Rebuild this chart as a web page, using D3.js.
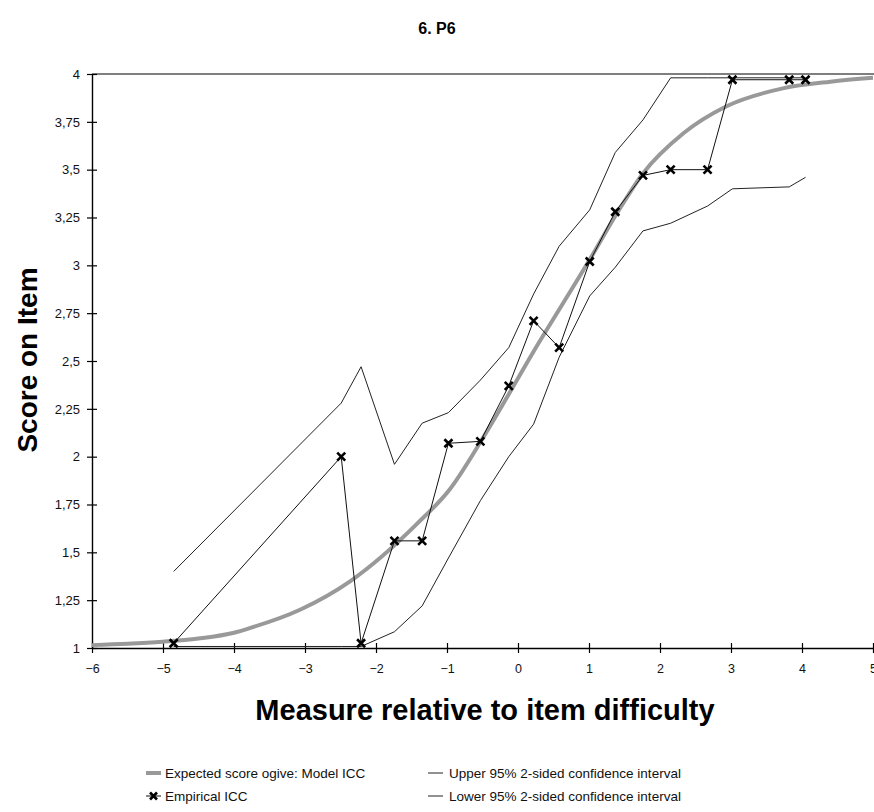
<!DOCTYPE html>
<html>
<head>
<meta charset="utf-8">
<script src="https://cdn.jsdelivr.net/npm/d3@7"></script>
<style>
  html, body { margin: 0; padding: 0; background: #fff; }
  svg { display: block; font-family: "Liberation Sans", Arial, sans-serif; }
</style>
</head>
<body>
<svg id="chart" width="874" height="812"></svg>
<script>
// ---- data ----
const title = "6. P6";
const xTicks = [-6, -5, -4, -3, -2, -1, 0, 1, 2, 3, 4, 5];
const yTicks = [1, 1.25, 1.5, 1.75, 2, 2.25, 2.5, 2.75, 3, 3.25, 3.5, 3.75, 4];

// Model ICC (expected score ogive)
const modelX = [-6, -5.5, -5, -4.5, -4, -3.77, -3.07, -2.36, -1.42, -0.96, -0.49, 0.22, 1.01, 1.39, 1.76, 2.33, 2.93, 3.73, 4.4, 5];
const modelY = [1.015, 1.022, 1.033, 1.05, 1.08, 1.105, 1.20, 1.35, 1.65, 1.83, 2.10, 2.55, 3.03, 3.27, 3.48, 3.69, 3.83, 3.925, 3.96, 3.98];

// Empirical ICC
const empX = [-4.85, -2.49, -2.21, -1.74, -1.35, -0.98, -0.53, -0.13, 0.22, 0.58, 1.01, 1.37, 1.76, 2.15, 2.67, 3.02, 3.82, 4.05];
const empY = [1.025, 2.0, 1.025, 1.56, 1.56, 2.07, 2.08, 2.37, 2.71, 2.57, 3.02, 3.28, 3.47, 3.50, 3.50, 3.97, 3.97, 3.97];

// 95% confidence intervals (same x as the empirical points)
const upperY = [1.40, 2.28, 2.47, 1.96, 2.175, 2.23, 2.40, 2.57, 2.85, 3.10, 3.29, 3.59, 3.76, 3.98, 3.98, 3.98, 3.98, 3.98];
const lowerY = [1.008, 1.008, 1.008, 1.085, 1.22, 1.47, 1.77, 2.0, 2.17, 2.52, 2.84, 2.99, 3.18, 3.22, 3.31, 3.40, 3.41, 3.46];

const legendLabels = [
  "Expected score ogive: Model ICC",
  "Empirical ICC",
  "Upper 95% 2-sided confidence interval",
  "Lower 95% 2-sided confidence interval"
];

// ---- drawing ----
const svg = d3.select("#chart");
const x = d3.scaleLinear().domain([-6, 5]).range([92, 873]);
const y = d3.scaleLinear().domain([1, 4]).range([648, 74]);

const fmt = d => String(d).replace(".", ",");

// title
svg.append("text")
  .attr("x", 437).attr("y", 34)
  .attr("text-anchor", "middle")
  .attr("font-size", 16).attr("font-weight", "bold")
  .text(title);

// top frame line
svg.append("line")
  .attr("x1", x(-6)).attr("x2", 874)
  .attr("y1", y(4)).attr("y2", y(4))
  .attr("stroke", "#000").attr("stroke-width", 1.2);

// axes
const gy = svg.append("g").attr("transform", `translate(${x(-6)},0)`)
  .call(d3.axisLeft(y).tickValues(yTicks).tickFormat(fmt).tickSizeOuter(0).tickPadding(6));
gy.selectAll(".tick line").attr("x1", -5).attr("x2", 5).attr("stroke-width", 1.2);
gy.select(".domain").attr("stroke-width", 1.4);
gy.selectAll(".tick text").attr("font-size", 13).attr("fill", "#111")
  .attr("font-family", "Liberation Sans, Arial, sans-serif");

const gx = svg.append("g").attr("transform", `translate(0,${y(1)})`)
  .call(d3.axisBottom(x).tickValues(xTicks).tickFormat(d3.format("d")).tickSizeOuter(0).tickPadding(10));
gx.selectAll(".tick line").attr("y1", -5).attr("y2", 5).attr("stroke-width", 1.2);
gx.select(".domain").attr("stroke-width", 1.4);
gx.selectAll(".tick text").attr("font-size", 12.5).attr("fill", "#111")
  .attr("font-family", "Liberation Sans, Arial, sans-serif");

// axis titles
svg.append("text")
  .attr("x", 485).attr("y", 720)
  .attr("text-anchor", "middle")
  .attr("font-size", 29).attr("font-weight", "bold")
  .text("Measure relative to item difficulty");

svg.append("text")
  .attr("transform", "translate(37,360) rotate(-90)")
  .attr("text-anchor", "middle")
  .attr("font-size", 28).attr("font-weight", "bold")
  .text("Score on Item");

const plot = svg.append("g");

// model ICC
const modelData = modelX.map((v, i) => [v, modelY[i]]);
plot.append("path")
  .datum(modelData)
  .attr("fill", "none")
  .attr("stroke", "#999")
  .attr("stroke-width", 4)
  .attr("d", d3.line().x(d => x(d[0])).y(d => y(d[1])).curve(d3.curveMonotoneX));

const lineGen = d3.line().x(d => x(d[0])).y(d => y(d[1]));

// confidence intervals
[upperY, lowerY].forEach(arr => {
  plot.append("path")
    .datum(empX.map((v, i) => [v, arr[i]]))
    .attr("fill", "none")
    .attr("stroke", "#222")
    .attr("stroke-width", 1)
    .attr("d", lineGen);
});

// empirical ICC
const empData = empX.map((v, i) => [v, empY[i]]);
plot.append("path")
  .datum(empData)
  .attr("fill", "none")
  .attr("stroke", "#111")
  .attr("stroke-width", 1)
  .attr("d", lineGen);

function cross(g, cx, cy, s) {
  g.append("path")
    .attr("d", `M${cx - s},${cy - s}L${cx + s},${cy + s}M${cx - s},${cy + s}L${cx + s},${cy - s}`)
    .attr("stroke", "#000").attr("stroke-width", 2.6).attr("fill", "none");
}
empData.forEach(d => cross(plot, x(d[0]), y(d[1]), 4));

// legend
const leg = svg.append("g").attr("font-size", 13.5).attr("fill", "#111");
const rows = [773, 796];
// model
leg.append("line").attr("x1", 146).attr("x2", 161).attr("y1", rows[0]).attr("y2", rows[0])
  .attr("stroke", "#999").attr("stroke-width", 4);
leg.append("text").attr("x", 165).attr("y", rows[0] + 5).text(legendLabels[0]);
// empirical
leg.append("line").attr("x1", 146).attr("x2", 161).attr("y1", rows[1]).attr("y2", rows[1])
  .attr("stroke", "#111").attr("stroke-width", 1);
cross(leg, 153.5, rows[1], 3.5);
leg.append("text").attr("x", 165).attr("y", rows[1] + 5).text(legendLabels[1]);
// upper / lower
[2, 3].forEach((k, i) => {
  leg.append("line").attr("x1", 428).attr("x2", 443).attr("y1", rows[i]).attr("y2", rows[i])
    .attr("stroke", "#222").attr("stroke-width", 1);
  leg.append("text").attr("x", 449).attr("y", rows[i] + 5).text(legendLabels[k]);
});
</script>
</body>
</html>
